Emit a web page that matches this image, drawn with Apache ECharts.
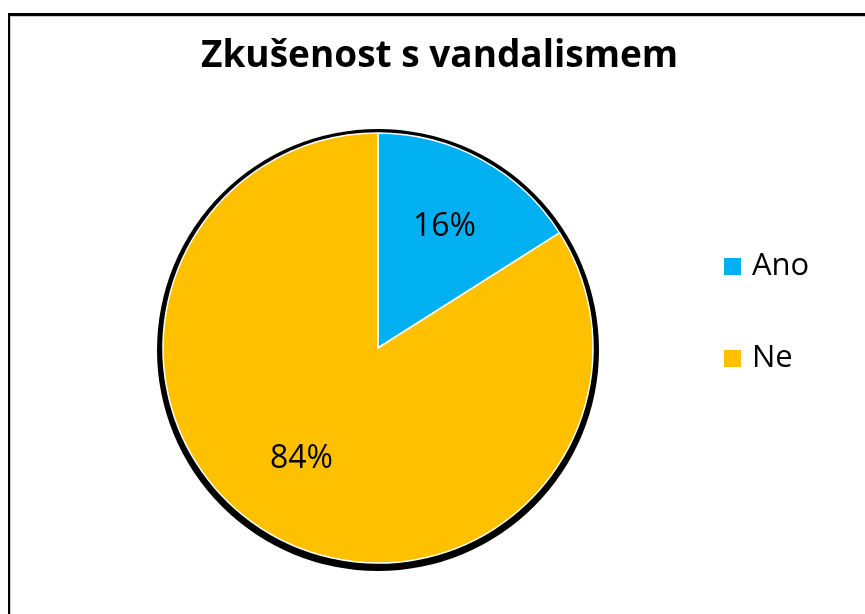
<!DOCTYPE html>
<html>
<head>
<meta charset="utf-8">
<script src="https://cdn.jsdelivr.net/npm/echarts@6/dist/echarts.min.js"></script>
<style>
  html, body { margin: 0; padding: 0; background: #fff; overflow: hidden; }
  #frame { position: absolute; left: 8px; top: 13px; width: 1000px; height: 1000px;
           border-left: 2px solid #000; border-top: 3px solid #000;
           box-shadow: inset 1px 1px 0 #c8c8c8; z-index: 0; }
  #chart { position: absolute; left: 0; top: 0; width: 865px; height: 614px; z-index: 1; }
</style>
</head>
<body>
<div id="frame"></div>
<div id="chart"></div>
<script>
const titleText = 'Zkušenost s vandalismem';
const categories = ['Ano', 'Ne'];
const values = [16, 84];
const colors = ['#00B0F0', '#FFC000'];

const chart = echarts.init(document.getElementById('chart'), null, { renderer: 'canvas' });
const pieData = categories.map((c, i) => ({ name: c, value: values[i], itemStyle: { color: colors[i] } }));

const font = '"Open Sans", "Noto Sans", sans-serif';

chart.setOption({
  animation: false,
  backgroundColor: 'transparent',
  title: {
    text: titleText,
    left: 201,
    top: 38,
    padding: 0,
    textStyle: { fontFamily: font, fontWeight: 'bold', fontSize: 37, color: '#000' }
  },
  legend: {
    data: categories,
    orient: 'vertical',
    left: 722,
    top: 251,
    padding: 0,
    itemWidth: 19,
    itemHeight: 19,
    itemGap: 61,
    icon: 'rect',
    selectedMode: false,
    textStyle: { fontFamily: font, fontSize: 31, color: '#000', lineHeight: 31, padding: [0, 0, 0, 5] }
  },
  series: [
    {
      type: 'pie',
      name: 'outline',
      silent: true,
      center: [378, 350],
      radius: 221,
      label: { show: false },
      labelLine: { show: false },
      itemStyle: { color: '#000' },
      emphasis: { disabled: true },
      data: [{ value: 1, name: '_outline' }]
    },
    {
      type: 'pie',
      name: 'main',
      center: [378, 348],
      radius: 215,
      startAngle: 90,
      clockwise: true,
      label: { show: false },
      labelLine: { show: false },
      itemStyle: { borderColor: '#fff', borderWidth: 1.5 },
      emphasis: { disabled: true },
      data: pieData
    },
    {
      type: 'pie',
      name: 'labels',
      silent: true,
      center: [378, 348],
      radius: [55, 215],
      startAngle: 90,
      clockwise: true,
      itemStyle: { color: 'rgba(0,0,0,0)' },
      label: {
        show: true,
        position: 'inside',
        formatter: '{c}%',
        fontFamily: font,
        fontSize: 32,
        color: '#000'
      },
      labelLine: { show: false },
      emphasis: { disabled: true },
      data: categories.map((c, i) => ({
        name: c,
        value: values[i],
        label: i === 1 ? { offset: [-10, -10] } : {}
      }))
    }
  ]
});
</script>
</body>
</html>
